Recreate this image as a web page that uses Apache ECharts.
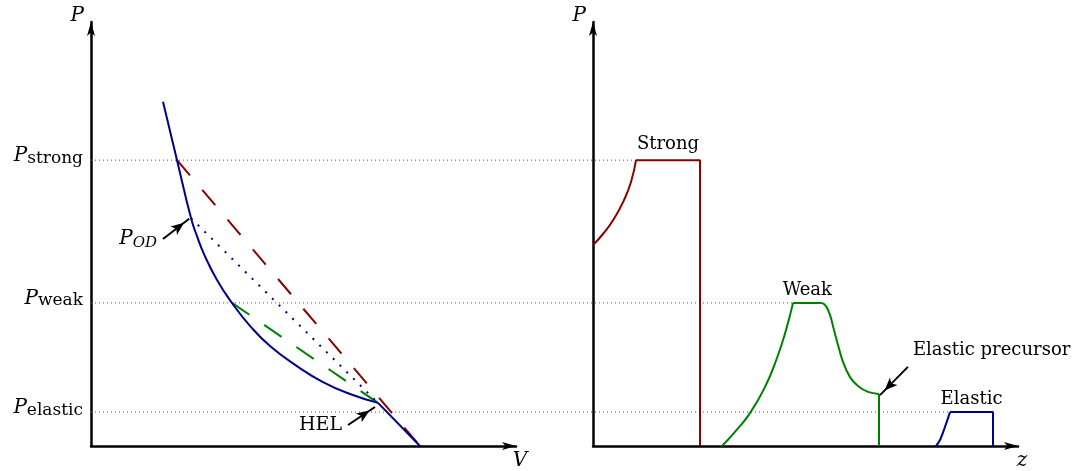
<!DOCTYPE html>
<html><head><meta charset="utf-8">
<script src="https://cdn.jsdelivr.net/npm/echarts@6/dist/echarts.min.js"></script>
<style>html,body{margin:0;padding:0;background:#fff}#c{width:1081px;height:471px}</style>
</head><body><div id="c"></div>
<script>
// ---------------- values ----------------
const P_STRONG = 8.09, P_WEAK = 4.05, P_ELASTIC = 0.96, P_HEL = 1.22, P_OD = 6.45, P_PRECURSOR = 1.47;
const yTickValues = [P_ELASTIC, P_WEAK, P_STRONG];
const yTickSubs = ['elastic', 'weak', 'strong'];

// left panel (P–V)
const hugoniotV = [1.694, 2.024, 2.353, 2.494, 2.659, 2.965, 3.318, 3.741, 4.212, 4.847, 5.459, 6.094, 6.753];
const hugoniotP = [9.74, P_STRONG, P_OD, 5.94, 5.43, 4.70, P_WEAK, 3.40, 2.83, 2.26, 1.81, 1.47, P_HEL];
const elasticBranchV = [6.753, 7.741];
const elasticBranchP = [P_HEL, 0];
const rayleighStrongV = [2.024, 7.741];
const rayleighStrongP = [P_STRONG, 0];
const rayleighWeakV = [3.318, 6.753];
const rayleighWeakP = [P_WEAK, P_HEL];
const rayleighOdV = [2.353, 6.753];
const rayleighOdP = [P_OD, P_HEL];
const odArrowFrom = [1.694, 5.86], odArrowTo = [2.31, 6.43];
const helArrowFrom = [6.047, 0.594], helArrowTo = [6.682, 1.104];

// right panel (P–z profiles)
const strongRiseZ = [0, 0.235, 0.494, 0.729, 0.894, 1.012];
const strongRiseP = [5.69, 6.0, 6.43, 6.96, 7.47, P_STRONG];
const strongFrontZ = [1.012, 2.518, 2.518];
const strongFrontP = [P_STRONG, P_STRONG, 0];
const weakRiseZ = [3.035, 3.341, 3.694, 4.047, 4.329, 4.541, 4.706];
const weakRiseP = [0, 0.40, 0.93, 1.67, 2.49, 3.28, P_WEAK];
const weakFallZ = [4.706, 5.381, 5.482, 5.576, 5.671, 5.765, 5.882, 6.047, 6.235, 6.471, 6.729];
const weakFallP = [P_WEAK, P_WEAK, 3.96, 3.71, 3.28, 2.86, 2.38, 1.95, 1.70, 1.53, P_PRECURSOR];
const weakFrontZ = [6.729, 6.729];
const weakFrontP = [P_PRECURSOR, 0];
const elasticRiseZ = [8.07, 8.165, 8.282, 8.4];
const elasticRiseP = [0, 0.17, 0.54, P_ELASTIC];
const elasticTopZ = [8.4, 9.412, 9.412];
const elasticTopP = [P_ELASTIC, P_ELASTIC, 0];
const precursorArrowFrom = [7.41, 2.24], precursorArrowTo = [6.753, 1.44];

// ---------------- layout / style ----------------
const LEFT_X = 91, RIGHT_X = 593, GRID_TOP = 22, GRID_W = 425, GRID_H = 424;
const X_MAX = 10, Y_MAX = 12;
const RIGHT_OFFSET = (RIGHT_X - LEFT_X) / (GRID_W / X_MAX);
const FONT = 'DejaVu Serif';
const TXT = '#000';
const NAVY = '#00008b', DRED = '#8b0000', GREEN = '#008000';

const zip = (a, b) => a.map((v, i) => [v, b[i]]);

function lineSeries(g, xs, ys, color, extra) {
  return Object.assign({
    type: 'line', xAxisIndex: g, yAxisIndex: g, data: zip(xs, ys),
    showSymbol: false, symbol: 'none', silent: true,
    lineStyle: { color: color, width: 2 }, z: 3
  }, extra || {});
}
function dashed(g, xs, ys, color, type) {
  return lineSeries(g, xs, ys, color, { lineStyle: { color: color, width: 2, type: type } });
}
function arrow(g, from, to) {
  return {
    type: 'line', xAxisIndex: g, yAxisIndex: g, data: [], silent: true,
    markLine: {
      silent: true, animation: false,
      symbol: ['none', 'arrow'], symbolSize: [8, 13], symbolOffset: [[0, 0], [0, 6.5]],
      lineStyle: { color: '#000', width: 2, type: 'solid' }, label: { show: false },
      data: [[{ coord: from }, { coord: to }]]
    }
  };
}
const richP = {
  p: { fontFamily: FONT, fontStyle: 'italic', fontSize: 20, color: TXT },
  s: { fontFamily: FONT, fontSize: 17, color: TXT, padding: [5, 0, 0, 0] },
  o: { fontFamily: FONT, fontStyle: 'italic', fontSize: 15, color: TXT, padding: [8, 0, 0, 0] }
};
function textLabels(g, items) {
  return {
    type: 'scatter', xAxisIndex: g, yAxisIndex: g, silent: true, symbol: 'circle', symbolSize: 0, z: 5,
    itemStyle: { color: '#000', opacity: 1 },
    label: { show: true, fontFamily: FONT, fontSize: 18, color: TXT, opacity: 1, rich: richP },
    data: items
  };
}
function guide(level, endZ) {
  return {
    type: 'line', xAxisIndex: 2, yAxisIndex: 2, silent: true,
    showSymbol: false, symbol: 'none', z: 1,
    data: [[0, level], [RIGHT_OFFSET + endZ, level]],
    lineStyle: { color: '#555', width: 1, type: [1, 3] }
  };
}
function xAxisOpt(g, name) {
  return {
    gridIndex: g, type: 'value', min: 0, max: X_MAX,
    axisLine: { show: true, onZero: false, symbol: ['none', 'arrow'], symbolSize: [6, 14], lineStyle: { color: '#000', width: 2.5 } },
    axisTick: { show: false }, axisLabel: { show: false }, splitLine: { show: false },
    name: name, nameLocation: 'end', nameGap: 4,
    nameTextStyle: { fontFamily: FONT, fontStyle: 'italic', fontSize: 20, color: TXT, align: 'center', verticalAlign: 'top', padding: [5, 0, 0, 0] }
  };
}
function yAxisOpt(g) {
  return {
    gridIndex: g, type: 'value', min: 0, max: Y_MAX,
    axisLine: { show: true, onZero: false, symbol: ['none', 'arrow'], symbolSize: [6, 14], lineStyle: { color: '#000', width: 2.5 } },
    axisTick: { show: false }, splitLine: { show: false },
    axisLabel: g === 0 ? {
      show: true, customValues: yTickValues, margin: 8, padding: [0, 0, 9, 0],
      formatter: function (v) {
        const i = yTickValues.findIndex(t => Math.abs(t - v) < 1e-6);
        return i < 0 ? '' : '{p|P}{s|' + yTickSubs[i] + '}';
      },
      rich: richP
    } : { show: false },
    name: 'P', nameLocation: 'end', nameGap: 6,
    nameTextStyle: { fontFamily: FONT, fontStyle: 'italic', fontSize: 20, color: TXT, align: 'right', verticalAlign: 'middle', padding: [0, 7, 0, 0] }
  };
}
const hidden = { show: false };

const chart = echarts.init(document.getElementById('c'), null, { renderer: 'canvas' });
chart.setOption({
  animation: false,
  backgroundColor: '#fff',
  grid: [
    { left: LEFT_X, top: GRID_TOP, width: GRID_W, height: GRID_H, outerBoundsMode: 'none', containLabel: false },
    { left: RIGHT_X, top: GRID_TOP, width: GRID_W, height: GRID_H, outerBoundsMode: 'none', containLabel: false },
    { left: LEFT_X, top: GRID_TOP, width: RIGHT_X + GRID_W - LEFT_X, height: GRID_H, outerBoundsMode: 'none', containLabel: false }
  ],
  xAxis: [xAxisOpt(0, 'V'), xAxisOpt(1, 'z'),
    { gridIndex: 2, type: 'value', min: 0, max: RIGHT_OFFSET + X_MAX, axisLine: hidden, axisTick: hidden, axisLabel: hidden, splitLine: hidden }],
  yAxis: [yAxisOpt(0), yAxisOpt(1),
    { gridIndex: 2, type: 'value', min: 0, max: Y_MAX, axisLine: hidden, axisTick: hidden, axisLabel: hidden, splitLine: hidden }],
  series: [
    guide(P_STRONG, strongRiseZ[strongRiseZ.length - 1]),
    guide(P_WEAK, weakRiseZ[weakRiseZ.length - 1]),
    guide(P_ELASTIC, elasticTopZ[0]),
    // left panel
    dashed(0, rayleighStrongV, rayleighStrongP, DRED, [20, 19]),
    dashed(0, rayleighWeakV, rayleighWeakP, GREEN, [21, 18]),
    dashed(0, rayleighOdV, rayleighOdP, NAVY, [2, 7.5]),
    lineSeries(0, hugoniotV, hugoniotP, NAVY, { smooth: 0.5 }),
    lineSeries(0, elasticBranchV, elasticBranchP, NAVY),
    arrow(0, odArrowFrom, odArrowTo),
    arrow(0, helArrowFrom, helArrowTo),
    textLabels(0, [
      { value: odArrowFrom, label: { position: 'left', distance: 6, formatter: '{p|P}{o|OD}' } },
      { value: helArrowFrom, label: { position: 'left', distance: 6, fontSize: 19, formatter: 'HEL' } }
    ]),
    // right panel
    lineSeries(1, strongRiseZ, strongRiseP, DRED, { smooth: 0.5 }),
    lineSeries(1, strongFrontZ, strongFrontP, DRED),
    lineSeries(1, weakRiseZ, weakRiseP, GREEN, { smooth: 0.5 }),
    lineSeries(1, weakFallZ, weakFallP, GREEN, { smooth: 0.4 }),
    lineSeries(1, weakFrontZ, weakFrontP, GREEN),
    lineSeries(1, elasticRiseZ, elasticRiseP, NAVY, { smooth: 0.4 }),
    lineSeries(1, elasticTopZ, elasticTopP, NAVY),
    arrow(1, precursorArrowFrom, precursorArrowTo),
    textLabels(1, [
      { value: [(strongFrontZ[0] + strongFrontZ[1]) / 2, P_STRONG], label: { position: 'top', distance: 7, formatter: 'Strong' } },
      { value: [(weakFallZ[0] + weakFallZ[1]) / 2, P_WEAK], label: { position: 'top', distance: 4, formatter: 'Weak' } },
      { value: [(elasticTopZ[0] + elasticTopZ[1]) / 2, P_ELASTIC], label: { position: 'top', distance: 4, formatter: 'Elastic' } },
      { value: precursorArrowFrom, label: { position: 'right', distance: 5, offset: [0, -17], formatter: 'Elastic precursor' } }
    ])
  ]
});
</script></body></html>
